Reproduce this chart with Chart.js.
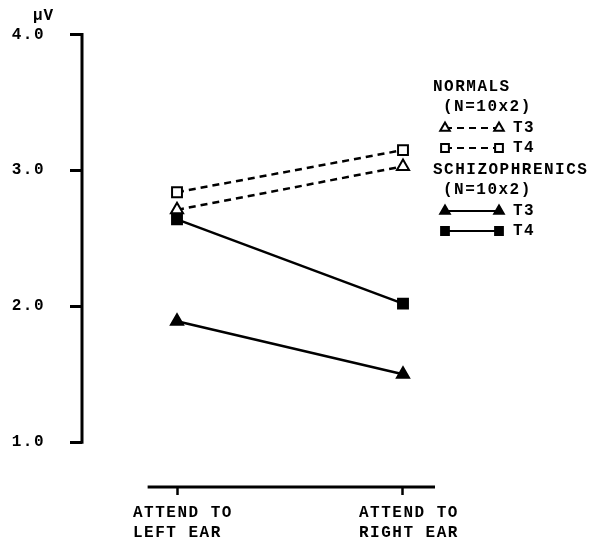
<!DOCTYPE html>
<html>
<head>
<meta charset="utf-8">
<script src="https://cdn.jsdelivr.net/npm/chart.js@4/dist/chart.umd.min.js"></script>
<style>
  body { margin: 0; background: #fff; }
</style>
</head>
<body>
<canvas id="chart" width="595" height="550"></canvas>
<script>
"use strict";

// values (microvolts)
const categories = [['ATTEND TO', 'LEFT EAR'], ['ATTEND TO', 'RIGHT EAR']];
const normalsT3 = [2.71, 3.03];
const normalsT4 = [2.84, 3.15];
const schizT3 = [1.89, 1.50];
const schizT4 = [2.64, 2.02];
const yTicks = [1, 2, 3, 4];
const unitLabel = 'µV';

const legendGroups = [
  { title: 'NORMALS', n: '(N=10x2)', names: ['T3', 'T4'], sets: [0, 1] },
  { title: 'SCHIZOPHRENICS', n: '(N=10x2)', names: ['T3', 'T4'], sets: [2, 3] }
];

const FONT = "bold 16px 'Liberation Mono', 'DejaVu Sans Mono', monospace";

const toPoints = (arr) => arr.map((v, i) => ({ x: i, y: v }));

const series = (data, style, filled, dashed) => ({
  data: toPoints(data),
  borderColor: '#000',
  borderWidth: 2.5,
  borderDash: dashed ? [7, 5] : [],
  pointStyle: style,
  pointRadius: 7,
  pointBorderWidth: 2,
  pointBorderColor: '#000',
  pointBackgroundColor: filled ? '#000' : '#fff',
  fill: false,
  tension: 0
});

function drawMarker(ctx, style, x, y, r, fill) {
  ctx.beginPath();
  if (style === 'rect') {
    let s = r * Math.SQRT1_2;
    ctx.rect(x - s, y - s, 2 * s, 2 * s);
  } else {
    ctx.moveTo(x, y - r);
    ctx.lineTo(x + r * Math.sin(Math.PI / 3), y + r / 2);
    ctx.lineTo(x - r * Math.sin(Math.PI / 3), y + r / 2);
    ctx.closePath();
  }
  ctx.fillStyle = fill;
  ctx.fill();
  ctx.lineWidth = 2;
  ctx.strokeStyle = '#000';
  ctx.stroke();
}

const axesAndLegend = {
  id: 'axesAndLegend',
  beforeDraw(chart) {
    chart.ctx.letterSpacing = '1.5px';
  },
  afterDraw(chart) {
    const ctx = chart.ctx;
    const area = chart.chartArea;
    const xs = chart.scales.x;
    const ys = chart.scales.y;
    ctx.save();
    ctx.strokeStyle = '#000';
    ctx.lineWidth = 3;
    ctx.lineCap = 'butt';

    // y axis line only spans the tick range
    ctx.beginPath();
    ctx.moveTo(area.left, ys.getPixelForValue(yTicks[0]) + 1.5);
    ctx.lineTo(area.left, ys.getPixelForValue(yTicks[yTicks.length - 1]) - 1.5);
    ctx.stroke();

    // detached x axis line
    ctx.beginPath();
    ctx.moveTo(xs.getPixelForValue(-0.13), area.bottom);
    ctx.lineTo(area.right, area.bottom);
    ctx.stroke();

    // unit label
    ctx.font = FONT;
    ctx.letterSpacing = '1px';
    ctx.fillStyle = '#000';
    ctx.textAlign = 'left';
    ctx.textBaseline = 'middle';
    ctx.fillText(unitLabel, area.left - 49, ys.getPixelForValue(yTicks[yTicks.length - 1]) - 19);

    // legend
    ctx.letterSpacing = '1.5px';
    let lx = area.right - 2;
    let ly = 87;
    legendGroups.forEach((g) => {
      ctx.fillStyle = '#000';
      ctx.fillText(g.title, lx, ly);
      ly += 20;
      ctx.fillText(g.n, lx + 10, ly);
      ly += 21;
      g.sets.forEach((di, k) => {
        const ds = chart.data.datasets[di];
        ctx.save();
        ctx.lineWidth = ds.borderWidth - 0.5;
        ctx.setLineDash(ds.borderDash);
        ctx.beginPath();
        ctx.moveTo(lx + 12, ly);
        ctx.lineTo(lx + 66, ly);
        ctx.stroke();
        ctx.setLineDash([]);
        drawMarker(ctx, ds.pointStyle, lx + 12, ly, 5.5, ds.pointBackgroundColor);
        drawMarker(ctx, ds.pointStyle, lx + 66, ly, 5.5, ds.pointBackgroundColor);
        ctx.restore();
        ctx.fillStyle = '#000';
        ctx.fillText(g.names[k], lx + 80, ly);
        ly += k === 0 ? 20 : 0;
      });
      ly += 22;
    });
    ctx.restore();
  }
};

new Chart(document.getElementById('chart'), {
  type: 'line',
  data: {
    datasets: [
      series(normalsT3, 'triangle', false, true),
      series(normalsT4, 'rect', false, true),
      series(schizT3, 'triangle', true, false),
      series(schizT4, 'rect', true, false)
    ]
  },
  options: {
    responsive: false,
    animation: false,
    layout: { padding: { top: 32, right: 160, bottom: 0, left: 0 } },
    plugins: {
      legend: { display: false },
      tooltip: { enabled: false }
    },
    scales: {
      x: {
        type: 'linear',
        min: -0.4204,
        max: 1.1416,
        afterFit: (s) => { s.height = 63; },
        afterBuildTicks: (s) => { s.ticks = [{ value: 0 }, { value: 1 }]; },
        border: { display: false },
        grid: {
          drawOnChartArea: false,
          tickLength: 8,
          tickWidth: 2.5,
          tickColor: '#000'
        },
        ticks: {
          color: '#000',
          padding: 8,
          maxRotation: 0,
          align: 'start',
          labelOffset: -44,
          font: { family: "'Liberation Mono', 'DejaVu Sans Mono', monospace", size: 16, weight: 'bold', lineHeight: 1.25 },
          callback: (v) => categories[v]
        }
      },
      y: {
        min: 0.67,
        max: 4.0,
        afterFit: (s) => { s.width = 82; },
        afterBuildTicks: (s) => { s.ticks = yTicks.map((v) => ({ value: v })); },
        border: { display: false },
        grid: {
          drawOnChartArea: false,
          tickLength: 12,
          tickWidth: 3,
          tickColor: '#000'
        },
        ticks: {
          color: '#000',
          padding: 25,
          font: { family: "'Liberation Mono', 'DejaVu Sans Mono', monospace", size: 16, weight: 'bold' },
          callback: (v) => v.toFixed(1)
        }
      }
    }
  },
  plugins: [axesAndLegend]
});
</script>
</body>
</html>
